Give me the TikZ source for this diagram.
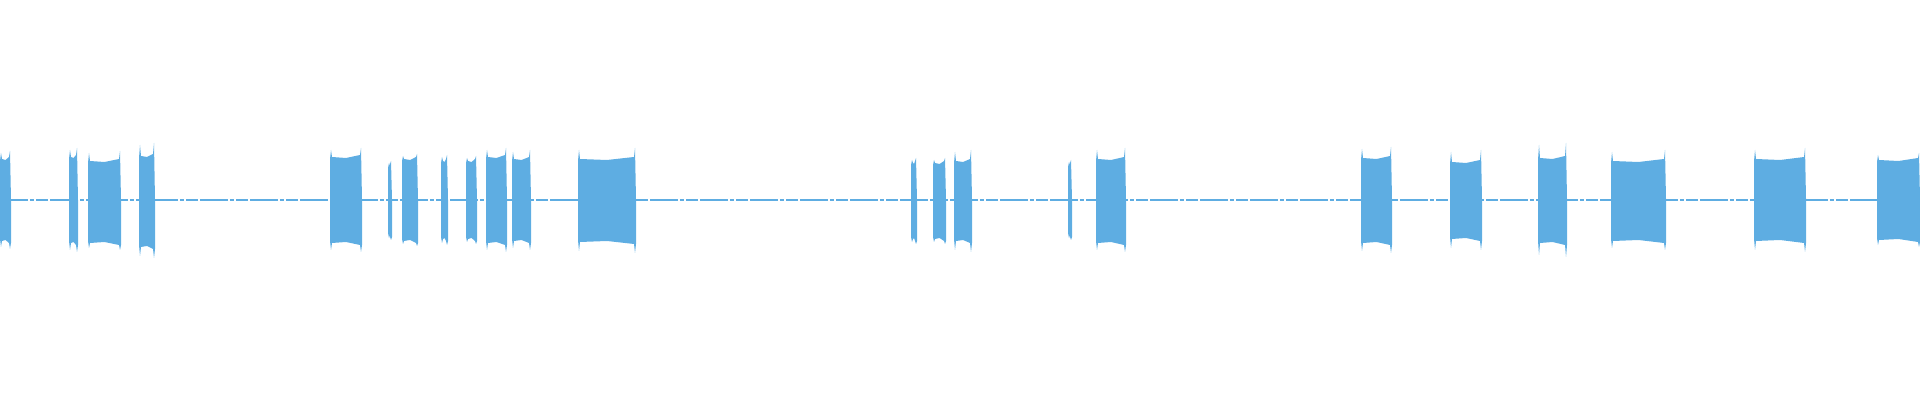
\documentclass[tikz,border=0pt]{standalone}
\definecolor{wave}{RGB}{94,173,226}
\begin{document}
\begin{tikzpicture}[x=0.5pt,y=-0.5pt,
  baseline/.style={draw=wave,line width=0.6pt,dash pattern=on 14pt off 1pt on 2pt off 1pt on 6pt off 1pt}]
\useasboundingbox (0,0) rectangle (1920,400);
\coordinate (L) at (0,200);
\coordinate (R) at (1920,200);
\draw[baseline] (L) -- (R);
\newcommand{\burstbox}[6]{%
  \fill[wave] (#1,200) -- (#1,#3+3) -- (#1+1,#5) -- (#1+2,#3+1) -- ({(#1+#2)/2},#3+2) -- (#2-2,#3-1) -- (#2-1,#5-2) -- (#2,200)
    -- (#2,#4+1) -- (#2-1,#6+2) -- (#2-2,#4+1) -- ({(#1+#2)/2},#4-2) -- (#1+2,#4-1) -- (#1+1,#6) -- (#1,#4-3) -- cycle;}
\burstbox{0}{11}{158}{242}{153}{247}
\burstbox{69}{78}{156}{244}{150}{250}
\burstbox{88}{121}{160}{244}{153}{248}
\burstbox{139}{155}{155}{248}{145}{256}
\burstbox{330}{362}{156}{244}{150}{250}
\burstbox{388}{392}{165}{236}{163}{238}
\burstbox{402}{418}{158}{242}{156}{244}
\burstbox{441}{448}{160}{240}{157}{243}
\burstbox{466}{477}{160}{240}{158}{242}
\burstbox{486}{507}{156}{244}{150}{250}
\burstbox{512}{531}{158}{242}{152}{248}
\burstbox{578}{636}{158}{243}{150}{251}
\burstbox{911}{917}{162}{240}{160}{242}
\burstbox{933}{946}{162}{240}{160}{242}
\burstbox{954}{972}{160}{242}{152}{250}
\burstbox{1068}{1072}{164}{236}{162}{238}
\burstbox{1096}{1126}{158}{244}{150}{250}
\burstbox{1361}{1392}{157}{244}{149}{251}
\burstbox{1450}{1482}{161}{240}{152}{248}
\burstbox{1538}{1567}{157}{244}{145}{255}
\burstbox{1611}{1666}{160}{242}{152}{248}
\burstbox{1754}{1806}{158}{242}{150}{250}
\burstbox{1877}{1920}{159}{241}{155}{245}
\end{tikzpicture}
\end{document}
